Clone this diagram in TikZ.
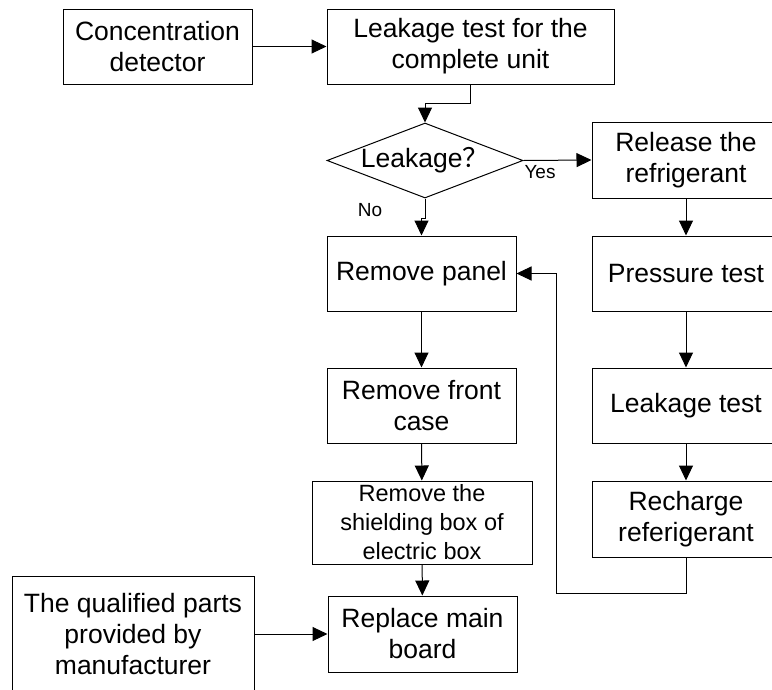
\documentclass[tikz,border=0pt]{standalone}
\usepackage{fontspec}
\setmainfont{Liberation Sans}
\newfontfamily\cjk{Noto Sans CJK SC}
\usetikzlibrary{arrows.meta,shapes.geometric}

\tikzset{
    box/.style={draw, line width=1pt, align=center, inner sep=0pt,
        font=\fontsize{26.5}{31}\selectfont},
    arr/.style={line width=1pt, -{Triangle[length=15pt,width=14pt]}},
    tag/.style={inner sep=0pt, font=\fontsize{19}{22}\selectfont}
}

\begin{document}
\begin{tikzpicture}[x=1pt,y=-1pt]
    \useasboundingbox (0,0) rectangle (772,689);
    \node[box, minimum width=189, minimum height=75] (conc) at (157.5,46.5) {Concentration\\detector};
    \node[box, minimum width=287, minimum height=75] (unit) at (470.5,46.5) {Leakage test for the\\complete unit};
    \node[box, shape=diamond, aspect=2.6, minimum width=196, minimum height=75] (leak) at (425,160.5) {Leakage{\cjk ？}};
    \node[box, minimum width=189, minimum height=75] (panel) at (421.5,273.5) {Remove panel};
    \node[box, minimum width=189, minimum height=75] (front) at (421.5,405.5) {Remove front\\case};
    \node[box, minimum width=220, minimum height=83, font=\fontsize{23.5}{29}\selectfont] (shield) at (422,522.5) {Remove the\\shielding box of\\electric box};
    \node[box, minimum width=189, minimum height=76] (board) at (422.5,634) {Replace main\\board};
    \node[box, minimum width=242, minimum height=116] (parts) at (133,634) {The qualified parts\\provided by\\manufacturer};
    % right column
    \node[box, minimum width=188, minimum height=76] (release) at (686,160) {Release the\\refrigerant};
    \node[box, minimum width=188, minimum height=75] (press) at (686,273.5) {Pressure test};
    \node[box, minimum width=188, minimum height=75] (ltest) at (686,405.5) {Leakage test};
    \node[box, minimum width=188, minimum height=76] (recharge) at (686,519) {Recharge\\referigerant};
    \coordinate (back) at (556,593);

    \draw[arr] (conc) -- (unit);
    \draw[arr] (unit.south) -- ++(0,19) -| (leak.north);
    \draw[arr] (leak.east) -- (release.west);
    \node[tag] (yes) at (540,172) {Yes};
    \draw[arr] (leak.south) -- ++(0,20) -| (panel.north);
    \node[tag] (no) at (370,210) {No};
    \draw[arr] (panel) -- (front);
    \draw[arr] (front) -- (shield);
    \draw[arr] (shield) -- (board);
    \draw[arr] (parts.east |- board.west) -- (board.west);
    \draw[arr] (release) -- (press);
    \draw[arr] (press) -- (ltest);
    \draw[arr] (ltest) -- (recharge);
    \draw[arr] (recharge.south) |- (back) |- (panel.east);
\end{tikzpicture}
\end{document}
